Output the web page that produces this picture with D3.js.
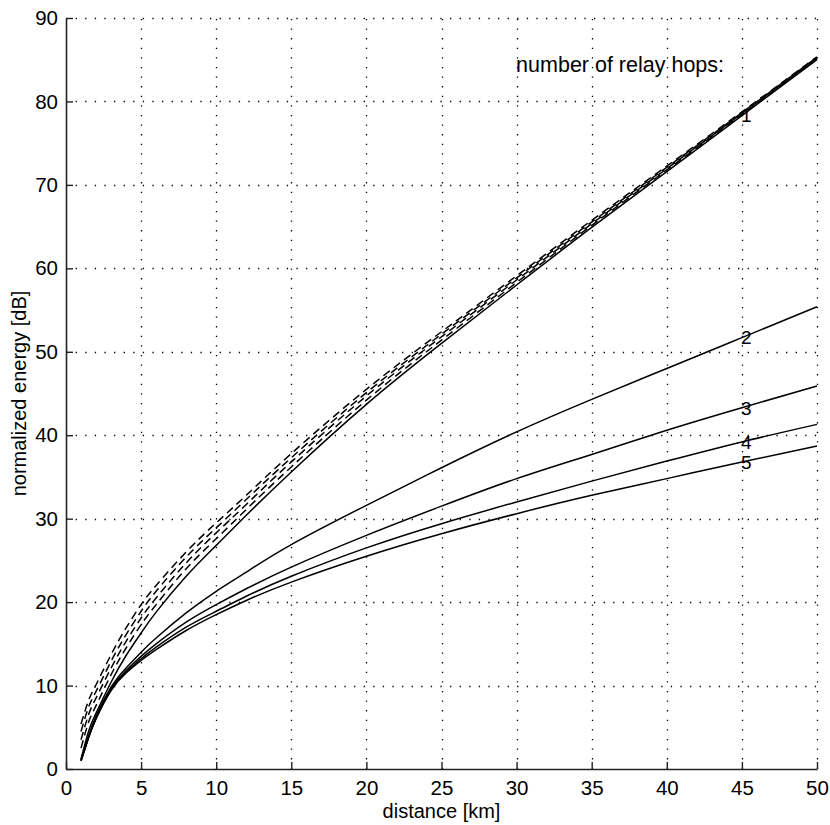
<!DOCTYPE html>
<html>
<head>
<style>
  body { margin: 0; background: #fff; }
  text { font-family: "Liberation Sans", Arial, sans-serif; }
</style>
</head>
<body>
<script src="https://cdn.jsdelivr.net/npm/d3@7"></script>
<script>
// distance samples [km]
var distance = [1, 1.5, 2, 3, 4, 5, 6, 8, 10, 12, 15, 20, 25, 30, 35, 40, 45, 50];

// solid curves, normalized energy [dB] per number of relay hops
var hops1 = [1.2, 4.5, 6.7, 10.4, 13.6, 16.3, 18.8, 23.1, 26.8, 30.4, 35.6, 43.7, 51.0, 58.0, 64.9, 71.6, 78.3, 85.0];
var hops2 = [1.1, 3.9, 6.3, 9.8, 12.1, 14.0, 15.7, 18.7, 21.3, 23.6, 26.9, 31.6, 36.1, 40.4, 44.3, 48.0, 51.7, 55.4];
var hops3 = [1.0, 3.8, 6.2, 9.6, 11.8, 13.5, 15.0, 17.6, 19.7, 21.6, 24.2, 28.0, 31.5, 34.8, 37.7, 40.6, 43.3, 45.9];
var hops4 = [1.0, 3.8, 6.1, 9.5, 11.6, 13.2, 14.6, 17.0, 18.9, 20.7, 23.1, 26.5, 29.4, 32.0, 34.5, 36.9, 39.2, 41.3];
var hops5 = [1.0, 3.7, 6.0, 9.4, 11.5, 13.0, 14.3, 16.6, 18.5, 20.2, 22.4, 25.5, 28.2, 30.6, 32.8, 34.8, 36.8, 38.7];

// dashed curves (just above the single hop curve)
var dashA = [2.5, 5.6, 7.6, 11.3, 14.5, 17.3, 19.7, 24.0, 27.6, 31.1, 36.2, 44.2, 51.4, 58.3, 65.15, 71.8, 78.45, 85.1];
var dashB = [3.5, 6.5, 8.5, 12.1, 15.3, 18.1, 20.5, 24.7, 28.3, 31.7, 36.8, 44.7, 51.8, 58.6, 65.35, 71.95, 78.55, 85.2];
var dashC = [4.5, 7.4, 9.3, 12.9, 16.1, 18.9, 21.3, 25.4, 28.9, 32.3, 37.3, 45.1, 52.1, 58.85, 65.55, 72.1, 78.65, 85.3];
var dashD = [5.4, 8.2, 10.1, 13.7, 16.9, 19.7, 22.0, 26.0, 29.5, 32.8, 37.8, 45.5, 52.4, 59.1, 65.75, 72.25, 78.75, 85.35];

var hopLabels = ["1", "2", "3", "4", "5"];
var labelAt = 45;
var xTicks = [0, 5, 10, 15, 20, 25, 30, 35, 40, 45, 50];
var yTicks = [0, 10, 20, 30, 40, 50, 60, 70, 80, 90];

var width = 830, height = 825;
var margin = { left: 66, right: 13, top: 18, bottom: 56 };

var svg = d3.select("body").append("svg")
    .attr("width", width)
    .attr("height", height);

var x = d3.scaleLinear().domain([0, 50]).range([margin.left, width - margin.right]);
var y = d3.scaleLinear().domain([0, 90]).range([height - margin.bottom, margin.top]);

// dotted grid
var grid = svg.append("g").attr("stroke", "#000").attr("stroke-width", 1.3)
    .attr("stroke-dasharray", "1.3,8.3");
grid.selectAll(".vg").data(xTicks.slice(1)).enter().append("line")
    .attr("x1", function (d) { return Math.round(x(d)) + 0.5; })
    .attr("x2", function (d) { return Math.round(x(d)) + 0.5; })
    .attr("y1", y(0)).attr("y2", y(90));
grid.selectAll(".hg").data(yTicks.slice(1)).enter().append("line")
    .attr("y1", function (d) { return Math.round(y(d)) + 0.5; })
    .attr("y2", function (d) { return Math.round(y(d)) + 0.5; })
    .attr("x1", x(0)).attr("x2", x(50));

// curves
var line = d3.line()
    .x(function (d) { return x(d[0]); })
    .y(function (d) { return y(d[1]); })
    .curve(d3.curveNatural);

function pairs(vals) { return distance.map(function (d, i) { return [d, vals[i]]; }); }

[dashA, dashB, dashC, dashD].forEach(function (s) {
  svg.append("path").attr("d", line(pairs(s)))
    .attr("fill", "none").attr("stroke", "#000").attr("stroke-width", 1.5)
    .attr("stroke-dasharray", "8,5");
});

var solid = [hops1, hops2, hops3, hops4, hops5];
solid.forEach(function (s) {
  svg.append("path").attr("d", line(pairs(s)))
    .attr("fill", "none").attr("stroke", "#000").attr("stroke-width", 1.5);
});

// hop labels at 45 km
var li = distance.indexOf(labelAt);
svg.selectAll(".hl").data(hopLabels).enter().append("text")
    .attr("x", x(labelAt) - 1)
    .attr("y", function (d, i) { return y(solid[i][li]); })
    .attr("dy", "0.36em")
    .attr("font-size", 19)
    .text(function (d) { return d; });

svg.append("text")
    .attr("x", x(30) - 0.5).attr("y", y(84.5))
    .attr("dy", "0.36em")
    .attr("font-size", 21.5)
    .text("number of relay hops:");

// axes (ticks inside, only left and bottom)
var xAxis = d3.axisBottom(x).tickValues(xTicks).tickSizeInner(-7).tickSizeOuter(0).tickPadding(11);
var yAxis = d3.axisLeft(y).tickValues(yTicks).tickSizeInner(-7).tickSizeOuter(0).tickPadding(8);

var gx = svg.append("g").attr("transform", "translate(0," + y(0) + ")").call(xAxis);
var gy = svg.append("g").attr("transform", "translate(" + x(0) + ",0)").call(yAxis);
[gx, gy].forEach(function (g) {
  g.select(".domain").attr("stroke", "#222").attr("stroke-width", 1.6);
  g.selectAll(".tick line").attr("stroke", "#222").attr("stroke-width", 1.4);
  g.selectAll(".tick text").attr("font-size", 20.5)
    .attr("font-family", "Liberation Sans, Arial, sans-serif").attr("fill", "#000");
});

svg.append("text")
    .attr("x", (x(0) + x(50)) / 2).attr("y", 818)
    .attr("text-anchor", "middle").attr("font-size", 20)
    .text("distance [km]");

svg.append("text")
    .attr("transform", "translate(26," + y(45) + ") rotate(-90)")
    .attr("text-anchor", "middle").attr("font-size", 20)
    .text("normalized energy [dB]");
</script>
</body>
</html>
